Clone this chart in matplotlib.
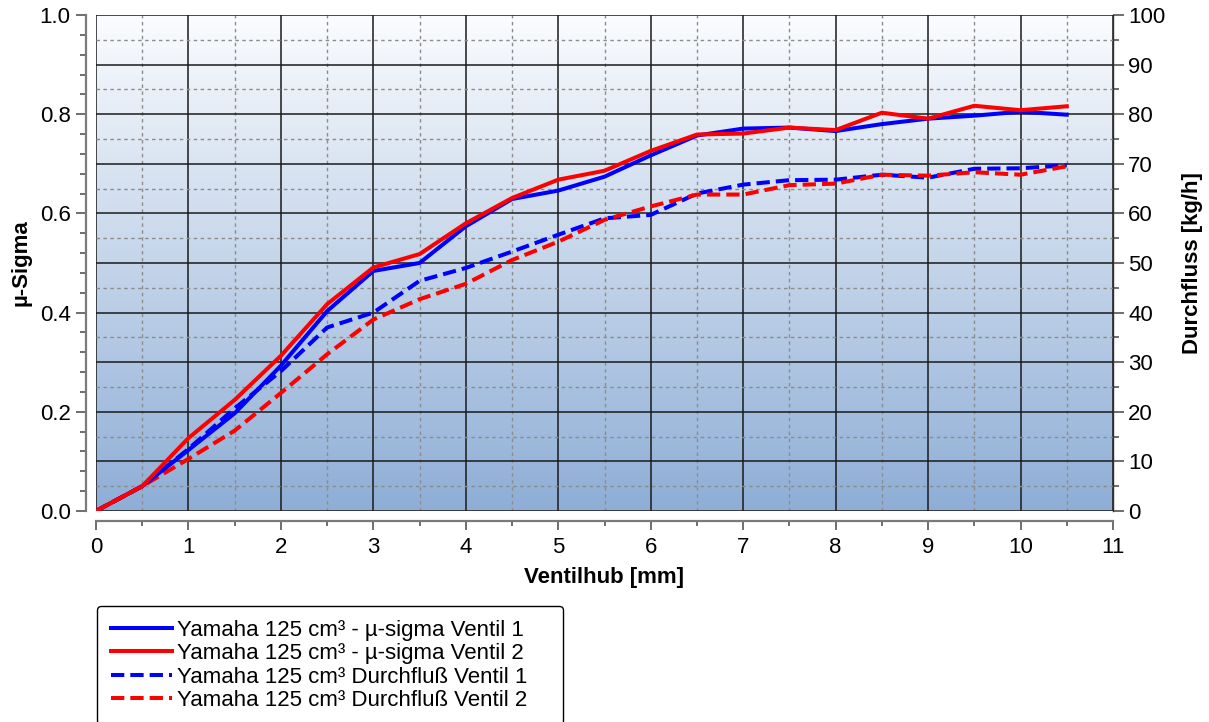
import numpy as np
import matplotlib
matplotlib.use("Agg")
import matplotlib.pyplot as plt
from matplotlib.ticker import MultipleLocator, FormatStrFormatter
from matplotlib.colors import LinearSegmentedColormap

plt.rcParams["font.family"] = ["Liberation Sans", "DejaVu Sans"]

# Ventilhub [mm]
hub = [0, 0.5, 1, 1.5, 2, 2.5, 3, 3.5, 4, 4.5, 5, 5.5,
       6, 6.5, 7, 7.5, 8, 8.5, 9, 9.5, 10, 10.5]
# µ-sigma (linke Achse)
mu_v1 = [0, 0.05, 0.123, 0.197, 0.293, 0.403, 0.484, 0.50, 0.574, 0.629, 0.646,
         0.674, 0.717, 0.757, 0.771, 0.773, 0.766, 0.780, 0.791, 0.797, 0.805, 0.799]
mu_v2 = [0, 0.05, 0.147, 0.224, 0.313, 0.417, 0.491, 0.518, 0.580, 0.631, 0.668,
         0.686, 0.726, 0.759, 0.761, 0.773, 0.768, 0.803, 0.791, 0.817, 0.808, 0.816]
# Durchfluss [kg/h] (rechte Achse)
fl_v1 = [0, 5, 12.5, 20.7, 28.2, 37.0, 40.0, 46.4, 49.0, 52.3, 55.7,
         59.0, 59.7, 64.0, 65.8, 66.7, 66.8, 67.8, 67.2, 69.0, 69.1, 69.7]
fl_v2 = [0, 5, 10.5, 16.2, 23.8, 31.6, 38.6, 42.7, 45.8, 50.6, 54.3,
         58.7, 61.4, 63.8, 63.8, 65.7, 66.0, 67.8, 67.6, 68.3, 67.8, 69.5]

labels = ["Yamaha 125 cm³ - µ-sigma Ventil 1",
          "Yamaha 125 cm³ - µ-sigma Ventil 2",
          "Yamaha 125 cm³ Durchfluß Ventil 1",
          "Yamaha 125 cm³ Durchfluß Ventil 2"]

W, H = 1209, 722
fig = plt.figure(figsize=(W / 100, H / 100), dpi=100)
ax = fig.add_axes([96 / W, 1 - 511 / H, (1113 - 96) / W, (511 - 15) / H])
ax2 = ax.twinx()

# rechte Achse liegt unten (Hintergrund + Gitter), linke oben
ax.set_zorder(2)
ax2.set_zorder(1)
ax.patch.set_visible(False)

cmap = LinearSegmentedColormap.from_list("bg", ["#8eaed6", "#fbfcfe"])
grad = np.linspace(0, 1, 256).reshape(-1, 1)
ax2.imshow(grad, extent=[0, 11, 0, 100], origin="lower", aspect="auto",
           cmap=cmap, zorder=0)

ax.set_xlim(0, 11)
ax.set_ylim(0, 1)
ax2.set_ylim(0, 100)

# Gitter über die rechte Achse
ax2.xaxis.set_visible(True)
ax2.set_axisbelow(True)
ax2.xaxis.set_major_locator(MultipleLocator(1))
ax2.xaxis.set_minor_locator(MultipleLocator(0.5))
ax2.yaxis.set_major_locator(MultipleLocator(10))
ax2.yaxis.set_minor_locator(MultipleLocator(5))
ax2.grid(True, which="major", color="#1a1a1a", lw=1.1)
ax2.grid(True, which="minor", color="#8c8c8c", lw=1.0, ls=(0, (2.5, 2.5)))
ax2.tick_params(axis="x", which="both", bottom=False, top=False,
                labelbottom=False, labeltop=False)

dash = (0, (3.3, 1.5))
ax.plot(hub, mu_v1, color="#0000ff", lw=2.9, label=labels[0], zorder=3)
ax.plot(hub, mu_v2, color="#ff0000", lw=2.9, label=labels[1], zorder=4)
ax2.plot(hub, fl_v1, color="#0000ff", lw=2.9, ls=dash, label=labels[2], zorder=3)
ax2.plot(hub, fl_v2, color="#ff0000", lw=2.9, ls=dash, label=labels[3], zorder=4)

# Achsen
ax.xaxis.set_major_locator(MultipleLocator(1))
ax.xaxis.set_minor_locator(MultipleLocator(0.5))
ax.yaxis.set_major_locator(MultipleLocator(0.2))
ax.yaxis.set_minor_locator(MultipleLocator(0.04))
ax.yaxis.set_major_formatter(FormatStrFormatter("%.1f"))

for s in ["top", "right"]:
    ax.spines[s].set_visible(False)
for s in ["left", "bottom"]:
    ax.spines[s].set_position(("outward", 7))
    ax.spines[s].set_color("#7a7a7a")
    ax.spines[s].set_linewidth(1.6)
ax.spines["left"].set_bounds(0, 1)
ax.spines["bottom"].set_bounds(0, 11)

for s in ["top", "left", "bottom"]:
    ax2.spines[s].set_visible(False)
ax2.spines["right"].set_color("#303030")
ax2.spines["right"].set_linewidth(1.0)

ax.tick_params(axis="both", which="major", labelsize=16, color="#555555", width=1.2)
ax.tick_params(axis="y", which="major", length=7.2, pad=4)
ax.tick_params(axis="y", which="minor", length=4.3, color="#555555", width=1.2)
ax.tick_params(axis="x", which="major", length=6.5, pad=5)
ax.tick_params(axis="x", which="minor", length=3.6, color="#555555", width=1.2)
ax2.tick_params(axis="y", which="major", labelsize=16, length=8, color="#555555", width=1.2, pad=3)
ax2.tick_params(axis="y", which="minor", length=4.3, color="#555555", width=1.2)

ax.set_xlabel("Ventilhub [mm]", fontsize=16, fontweight="bold", labelpad=7)
ax.set_ylabel("µ-Sigma", fontsize=16, fontweight="bold", labelpad=6)
ax2.set_ylabel("Durchfluss [kg/h]", fontsize=16, fontweight="bold", labelpad=12)

h1, l1 = ax.get_legend_handles_labels()
h2, l2 = ax2.get_legend_handles_labels()
leg = fig.legend(h1 + h2, l1 + l2, loc="upper left",
                 bbox_to_anchor=(97 / W, 1 - 606 / H - 0.3, 466 / W, 0.3),
                 mode="expand", fontsize=16, frameon=True, fancybox=True,
                 edgecolor="#000000", framealpha=1, handlelength=2.75,
                 handletextpad=0.22, labelspacing=0.11, borderpad=0.62,
                 borderaxespad=0)
leg.get_frame().set_linewidth(1.0)

fig.savefig("out.png", dpi=100)
